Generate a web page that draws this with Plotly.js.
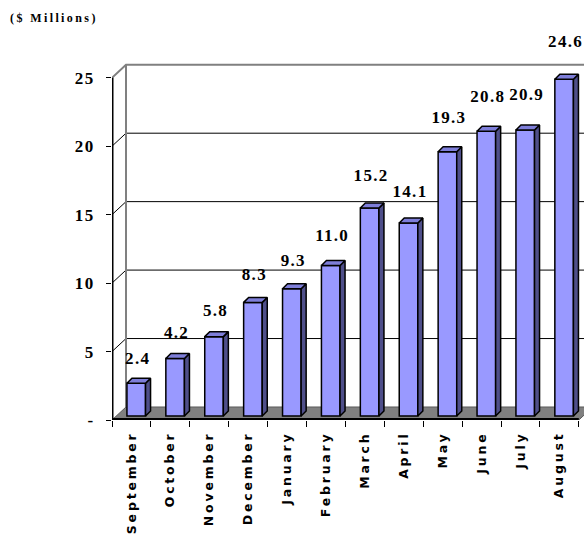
<!DOCTYPE html>
<html>
<head>
<meta charset="utf-8">
<script src="https://cdn.plot.ly/plotly-3.0.1.min.js"></script>
<style>
  html, body { margin: 0; padding: 0; background: #fff; }
  #chart { width: 584px; height: 540px; }
  .gtitle { letter-spacing: 2.4px; font-family: "Liberation Serif", "Times New Roman", serif !important; }
  .x2tick text { letter-spacing: 2.8px; }
  .ytick text { letter-spacing: 1.4px; font-family: "Liberation Serif", "Times New Roman", serif !important; }
  .textpoint text { letter-spacing: 1.3px; font-family: "Liberation Serif", "Times New Roman", serif !important; }
</style>
</head>
<body>
<div id="chart"></div>
<script>
// ---- data ----
const months = ['September', 'October', 'November', 'December', 'January', 'February',
                'March', 'April', 'May', 'June', 'July', 'August'];
const values = [2.4, 4.2, 5.8, 8.3, 9.3, 11.0, 15.2, 14.1, 19.3, 20.8, 20.9, 24.6];
const valueLabels = ['2.4', '4.2', '5.8', '8.3', '9.3', '11.0', '15.2', '14.1', '19.3', '20.8', '20.9', '24.6'];
const yTickVals = [0, 5, 10, 15, 20, 25];
const yTickText = ['-', '5', '10', '15', '20', '25'];

// ---- 3D geometry (in axis units) ----
const wallDX = 0.36, wallDY = 0.95;   // depth of the back wall
const barDX = 0.129, barDY = 0.365;   // depth of each bar
const barOff = 0.123, barW = 0.478, barBase = 0.29;
const xLeft = -0.5, xRight = months.length - 0.5, xFar = 14;

const idx = months.map((m, i) => i);
const centers = idx.map(i => i + barOff);

// side and top faces built from the values
const sideX = [], sideY = [], topX = [], topY = [];
values.forEach((v, i) => {
  const xl = centers[i] - barW / 2, xr = centers[i] + barW / 2;
  const b = barBase, t = barBase + v;
  sideX.push(xr, xr + barDX, xr + barDX, xr, xr, null);
  sideY.push(b, b + barDY, t + barDY, t, b, null);
  topX.push(xl, xr, xr + barDX, xl + barDX, xl, null);
  topY.push(t, t, t + barDY, t + barDY, t, null);
});

const serif = 'Liberation Serif';

const traces = [
  {
    type: 'bar', x: centers, y: values, base: barBase, width: barW,
    marker: { color: '#9999ff', line: { color: '#000', width: 1.5 } },
    hoverinfo: 'skip', showlegend: false
  },
  {
    type: 'scatter', mode: 'lines', x: sideX, y: sideY, fill: 'toself',
    fillcolor: '#4f4f8a', line: { color: '#000', width: 1.5 },
    hoverinfo: 'skip', showlegend: false
  },
  {
    type: 'scatter', mode: 'lines', x: topX, y: topY, fill: 'toself',
    fillcolor: '#7e7ed9', line: { color: '#000', width: 1.5 },
    hoverinfo: 'skip', showlegend: false
  },
  {
    type: 'scatter', mode: 'text', x: idx.map(i => i + 0.16),
    y: values.map(v => 1.9 + 1.042 * v),
    text: valueLabels, textposition: 'middle center', cliponaxis: false,
    textfont: { family: serif, size: 17, weight: 'bold', color: '#000' },
    hoverinfo: 'skip', showlegend: false
  },
  // invisible trace to activate xaxis2 (month labels)
  {
    type: 'scatter', mode: 'markers', x: idx, y: idx.map(() => 0), xaxis: 'x2',
    marker: { opacity: 0 }, hoverinfo: 'skip', showlegend: false
  }
];

// ---- walls, floor, grid ----
const shapes = [];
const gray = '#808080';
shapes.push({ type: 'path', layer: 'below',
  path: `M ${xLeft},0 L ${xRight},0 L ${xRight + wallDX},${wallDY} L ${xLeft + wallDX},${wallDY} Z`,
  fillcolor: gray, line: { color: '#5a5a5a', width: 1 } });
yTickVals.slice(1, -1).forEach(v => {
  shapes.push({ type: 'path', layer: 'below',
    path: `M ${xLeft},${v} L ${xLeft + wallDX},${v + wallDY} L ${xFar},${v + wallDY}`,
    line: { color: '#000', width: 1 } });
});
const yTop = yTickVals[yTickVals.length - 1];
shapes.push({ type: 'path', layer: 'below',
  path: `M ${xLeft},${yTop} L ${xLeft + wallDX},${yTop + wallDY} L ${xFar},${yTop + wallDY}`,
  line: { color: gray, width: 2 } });
shapes.push({ type: 'line', layer: 'below', x0: xLeft + wallDX, x1: xLeft + wallDX,
  y0: wallDY, y1: yTop + wallDY, line: { color: gray, width: 2 } });
// front axis lines
shapes.push({ type: 'line', layer: 'above', x0: xLeft, x1: xLeft, y0: 0, y1: yTop,
  line: { color: '#000', width: 3 } });
shapes.push({ type: 'line', layer: 'above', x0: xLeft, x1: xRight, y0: 0, y1: 0,
  line: { color: '#000', width: 4 } });

const pxPerX = 38.9, pxPerY = 13.69;
const ml = 112, mb = 120, mt = 28;
const plotW = 584 - ml, plotH = 540 - mb - mt;
const xRange = [xLeft, xLeft + plotW / pxPerX];
const yRange = [0, plotH / pxPerY];

const layout = {
  width: 584, height: 540,
  margin: { l: ml, r: 0, t: mt, b: mb, pad: 0 },
  paper_bgcolor: '#fff', plot_bgcolor: '#fff',
  showlegend: false,
  title: { text: '($ Millions)', xref: 'container', yref: 'container',
    x: 10 / 584, xanchor: 'left', y: 1 - 17.5 / 540, yanchor: 'middle',
    font: { family: serif, size: 12, weight: 'bold', color: '#000' } },
  xaxis: {
    type: 'linear', range: xRange, fixedrange: true,
    tickvals: idx.concat([months.length]).map(i => i - 0.5),
    showticklabels: false, ticks: 'outside', ticklen: 6, tickwidth: 1, tickcolor: '#000',
    showgrid: false, zeroline: false, showline: false
  },
  xaxis2: {
    type: 'linear', range: xRange, overlaying: 'x', anchor: 'y', side: 'bottom',
    tickvals: idx, ticktext: months, tickangle: -90, ticks: '',
    ticklabelstandoff: 8,
    tickfont: { family: 'DejaVu Sans', size: 12.5, weight: 'bold', color: '#000' },
    showgrid: false, zeroline: false, showline: false, fixedrange: true
  },
  yaxis: {
    type: 'linear', range: yRange, fixedrange: true,
    tickvals: yTickVals, ticktext: yTickText,
    ticks: 'outside', ticklen: 5, tickwidth: 1, tickcolor: '#000',
    ticklabelstandoff: 8,
    tickfont: { family: serif, size: 17, weight: 'bold', color: '#000' },
    showgrid: false, zeroline: false, showline: false
  },
  shapes: shapes
};

Plotly.newPlot('chart', traces, layout, { staticPlot: true, displayModeBar: false });
</script>
</body>
</html>
